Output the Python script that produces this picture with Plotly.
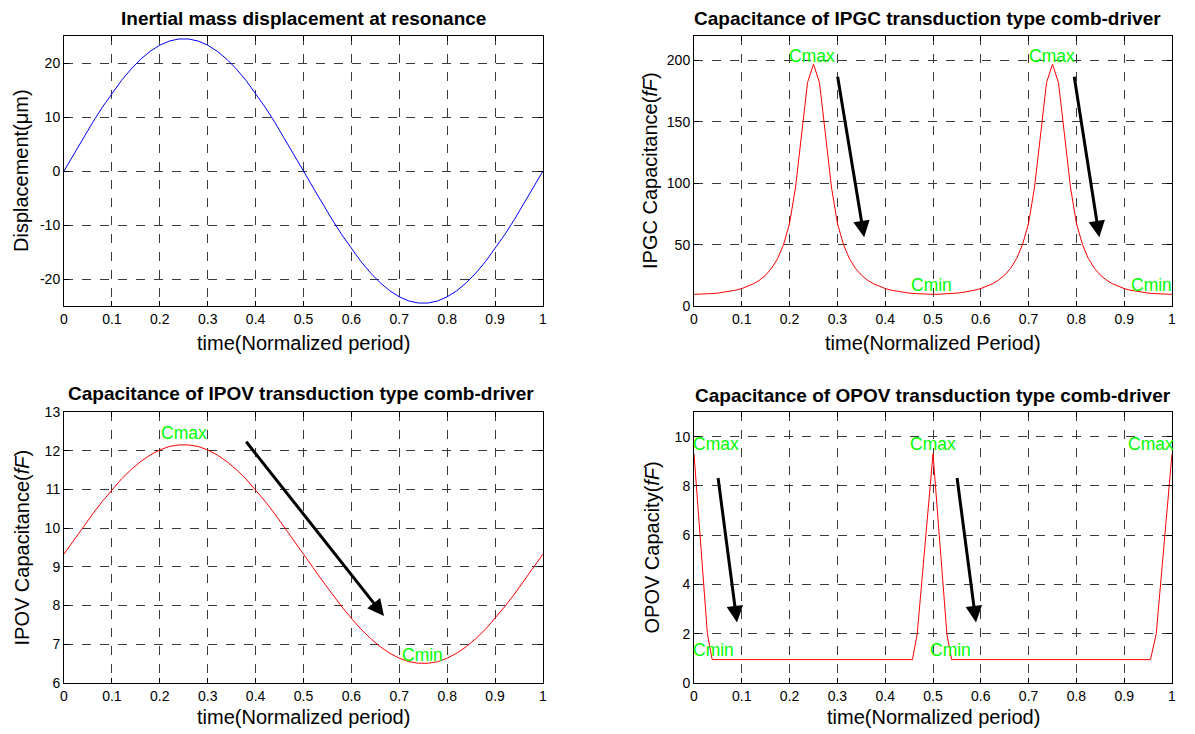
import plotly.graph_objects as go

# ---------------- data ----------------
t51 = [round(i * 0.02, 4) for i in range(51)]
disp = [0, 3.07, 6.09, 9.02, 11.80, 14.40, 16.77, 18.88, 20.69, 22.17, 23.30, 24.07, 24.45,
        24.45, 24.07, 23.30, 22.17, 20.69, 18.88, 16.77, 14.40, 11.80, 9.02, 6.09, 3.07,
        0, -3.07, -6.09, -9.02, -11.80, -14.40, -16.77, -18.88, -20.69, -22.17, -23.30, -24.07,
        -24.45, -24.45, -24.07, -23.30, -22.17, -20.69, -18.88, -16.77, -14.40, -11.80, -9.02,
        -6.09, -3.07, 0]
ipov = [9.33, 9.68, 10.03, 10.37, 10.69, 10.99, 11.27, 11.51, 11.72, 11.89, 12.02, 12.11, 12.15,
        12.15, 12.11, 12.02, 11.89, 11.72, 11.51, 11.27, 10.99, 10.69, 10.37, 10.03, 9.68,
        9.33, 8.98, 8.63, 8.29, 7.97, 7.67, 7.39, 7.15, 6.94, 6.77, 6.64, 6.55, 6.51,
        6.51, 6.55, 6.64, 6.77, 6.94, 7.15, 7.39, 7.67, 7.97, 8.29, 8.63, 8.98, 9.33]

t81 = [round(i * 0.0125, 5) for i in range(81)]
ipgc = [9.5, 9.6, 9.8, 10.1, 10.5, 11.1, 11.9, 12.9, 14.2, 15.9, 18.2, 21.2, 25.2, 30.8, 38.7,
        50.3, 67.5, 97, 140, 182, 197,
        182, 140, 97, 67.5, 50.3, 38.7, 30.8, 25.2, 21.2, 18.2, 15.9, 14.2, 12.9, 11.9, 11.1,
        10.5, 10.1, 9.8, 9.6, 9.5,
        9.6, 9.8, 10.1, 10.5, 11.1, 11.9, 12.9, 14.2, 15.9, 18.2, 21.2, 25.2, 30.8, 38.7,
        50.3, 67.5, 97, 140, 182, 197,
        182, 140, 97, 67.5, 50.3, 38.7, 30.8, 25.2, 21.2, 18.2, 15.9, 14.2, 12.9, 11.9, 11.1,
        10.5, 10.1, 9.8, 9.6, 9.5]

t_opov = [0, 0.028, 0.038, 0.457, 0.467, 0.5, 0.529, 0.539, 0.955, 0.967, 1.0]
opov = [9.3, 2.0, 0.95, 0.95, 2.0, 9.3, 2.0, 0.95, 0.95, 2.0, 9.3]

x_ticks = [0, 0.1, 0.2, 0.3, 0.4, 0.5, 0.6, 0.7, 0.8, 0.9, 1]
x_ticktext = ["0", "0.1", "0.2", "0.3", "0.4", "0.5", "0.6", "0.7", "0.8", "0.9", "1"]
y1_ticks = [-20, -10, 0, 10, 20]
y1_ticktext = ["-20", "-10", "0", "10", "20"]
y2_ticks = [0, 50, 100, 150, 200]
y3_ticks = [6, 7, 8, 9, 10, 11, 12, 13]
y4_ticks = [0, 2, 4, 6, 8, 10]

titles = ["Inertial mass displacement at resonance",
          "Capacitance of IPGC transduction type comb-driver",
          "Capacitance of IPOV transduction type comb-driver",
          "Capacitance of OPOV transduction type comb-driver"]
xtitles = ["time(Normalized period)", "time(Normalized Period)",
           "time(Normalized period)", "time(Normalized period)"]
ytitles = ["Displacement(\u03bcm)", "IPGC Capacitance(<i>fF</i>)",
           "IPOV Capacitance(<i>fF</i>)", "OPOV Capacity(<i>fF</i>)"]

# ---------------- layout helpers ----------------
W, H = 1195, 734
FONT = "Liberation Sans, Arial, sans-serif"

def px(x):
    return x / W

def py(y):
    return 1 - y / H

colL = [px(64), px(543)]
colR = [px(694), px(1172)]
rowT = [py(306), py(36)]
rowB = [py(683), py(412)]

fig = go.Figure()
fig.add_trace(go.Scatter(x=t51, y=disp, mode="lines", line=dict(color="#0000ff", width=1),
                         xaxis="x", yaxis="y", showlegend=False))
fig.add_trace(go.Scatter(x=t81, y=ipgc, mode="lines", line=dict(color="#ff0000", width=1),
                         xaxis="x2", yaxis="y2", showlegend=False))
fig.add_trace(go.Scatter(x=t51, y=ipov, mode="lines", line=dict(color="#ff0000", width=1),
                         xaxis="x3", yaxis="y3", showlegend=False))
fig.add_trace(go.Scatter(x=t_opov, y=opov, mode="lines", line=dict(color="#ff0000", width=1),
                         xaxis="x4", yaxis="y4", showlegend=False))

TICKFONT = dict(family=FONT, size=14, color="black")

def xax(domain, anchor):
    return dict(domain=domain, anchor=anchor, range=[0, 1], tickvals=x_ticks, ticktext=x_ticktext,
                ticks="inside", ticklen=5, tickcolor="black", mirror="allticks", showline=True,
                linecolor="black", linewidth=1, showgrid=True, gridcolor="#3a3a3a", gridwidth=1,
                griddash="dash", zeroline=False, tickfont=TICKFONT,
                automargin=False, fixedrange=True)

def yax(domain, anchor, rng, ticks, ticktext=None):
    d = dict(domain=domain, anchor=anchor, range=rng, tickvals=ticks,
             ticks="inside", ticklen=5, tickcolor="black", mirror="allticks", showline=True,
             linecolor="black", linewidth=1, showgrid=True, gridcolor="#3a3a3a", gridwidth=1,
             griddash="dash", zeroline=False, tickfont=TICKFONT,
             automargin=False, fixedrange=True)
    if ticktext is not None:
        d["ticktext"] = ticktext
    return d

annotations = []
# titles
title_pos = [((colL[0] + colL[1]) / 2, py(19)), ((colR[0] + colR[1]) / 2 - px(6), py(19)),
             ((colL[0] + colL[1]) / 2 - px(3), py(393)), ((colR[0] + colR[1]) / 2, py(395))]
for txt, (x, y) in zip(titles, title_pos):
    annotations.append(dict(text="<b>" + txt + "</b>", x=x, y=y, xref="paper", yref="paper",
                            showarrow=False, xanchor="center", yanchor="middle",
                            font=dict(family=FONT, size=19, color="black")))
# x titles
xt_pos = [((colL[0] + colL[1]) / 2, py(343)), ((colR[0] + colR[1]) / 2, py(343)),
          ((colL[0] + colL[1]) / 2, py(717)), ((colR[0] + colR[1]) / 2, py(717))]
for txt, (x, y) in zip(xtitles, xt_pos):
    annotations.append(dict(text=txt, x=x, y=y, xref="paper", yref="paper", showarrow=False,
                            xanchor="center", yanchor="middle",
                            font=dict(family=FONT, size=20, color="black")))
# y titles
yt_pos = [(px(21), (rowT[0] + rowT[1]) / 2), (px(650), (rowT[0] + rowT[1]) / 2),
          (px(21), (rowB[0] + rowB[1]) / 2), (px(651), (rowB[0] + rowB[1]) / 2)]
for txt, (x, y) in zip(ytitles, yt_pos):
    annotations.append(dict(text=txt, x=x, y=y, xref="paper", yref="paper", showarrow=False,
                            xanchor="center", yanchor="middle", textangle=-90,
                            font=dict(family=FONT, size=20, color="black")))

# green Cmax / Cmin labels
green = dict(family=FONT, size=17.5, color="#00ff00")
labels = [("Cmax", "x2", "y2", 0.2, 204), ("Cmax", "x2", "y2", 0.703, 204),
          ("Cmin", "x2", "y2", 0.456, 17), ("Cmin", "x2", "y2", 0.916, 17),
          ("Cmax", "x3", "y3", 0.205, 12.46), ("Cmin", "x3", "y3", 0.708, 6.72),
          ("Cmax", "x4", "y4", 0.0, 9.7), ("Cmax", "x4", "y4", 0.455, 9.7),
          ("Cmax", "x4", "y4", 0.91, 9.7),
          ("Cmin", "x4", "y4", 0.0, 1.35), ("Cmin", "x4", "y4", 0.496, 1.35)]
for txt, xr, yr, x, y in labels:
    annotations.append(dict(text=txt, x=x, y=y, xref=xr, yref=yr, showarrow=False,
                            xanchor="left", yanchor="middle", xshift=-3, font=green))

# black arrows (tail -> head)
arrows = [("x2", "y2", 0.300, 188, 0.356, 56), ("x2", "y2", 0.795, 188, 0.848, 56),
          ("x3", "y3", 0.378, 12.27, 0.668, 7.73),
          ("x4", "y4", 0.05, 8.38, 0.09, 2.46), ("x4", "y4", 0.55, 8.38, 0.59, 2.46)]
for xr, yr, x0, y0, x1, y1 in arrows:
    annotations.append(dict(text="", x=x1, y=y1, xref=xr, yref=yr, ax=x0, ay=y0,
                            axref=xr, ayref=yr, showarrow=True, arrowhead=2, arrowsize=1.1,
                            arrowwidth=3, arrowcolor="black", standoff=0, startstandoff=0))

fig.update_layout(
    width=W, height=H, margin=dict(l=0, r=0, t=0, b=0),
    paper_bgcolor="white", plot_bgcolor="white", showlegend=False,
    xaxis=xax(colL, "y"), yaxis=yax(rowT, "x", [-25, 25], y1_ticks, y1_ticktext),
    xaxis2=xax(colR, "y2"), yaxis2=yax(rowT, "x2", [0, 220], y2_ticks),
    xaxis3=xax(colL, "y3"), yaxis3=yax(rowB, "x3", [6, 13], y3_ticks),
    xaxis4=xax(colR, "y4"), yaxis4=yax(rowB, "x4", [0, 11], y4_ticks),
    annotations=annotations,
)

fig.write_html("out.html", config={"displayModeBar": False},
               post_script="document.body.style.margin='0px';document.body.style.overflow='hidden';")
